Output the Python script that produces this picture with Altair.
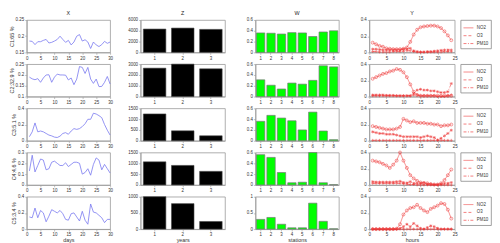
import altair as alt
import pandas as pd

FONT = "Liberation Sans"

row_labels = ["C1:65 %", "C2:32.9 %", "C3:5.1 %", "C4:4.6 %", "C5:3.4 %"]
col_titles = ["X", "Z", "W", "Y"]
x_titles = ["days", "years", "stations", "hours"]

# ---- column X : daily profiles ----
days = list(range(1, 31))
x_c1 = [0.185, 0.184, 0.174, 0.183, 0.183, 0.187, 0.190, 0.179, 0.181, 0.185,
        0.190, 0.200, 0.190, 0.181, 0.187, 0.173, 0.182, 0.200, 0.205, 0.185,
        0.189, 0.182, 0.162, 0.182, 0.173, 0.168, 0.174, 0.184, 0.178, 0.182]
x_c2 = [0.190, 0.182, 0.178, 0.183, 0.166, 0.186, 0.200, 0.201, 0.166, 0.190,
        0.204, 0.200, 0.200, 0.199, 0.177, 0.186, 0.155, 0.181, 0.239, 0.235,
        0.207, 0.235, 0.181, 0.161, 0.181, 0.146, 0.147, 0.166, 0.193, 0.158]
x_c3 = [0.05, 0.11, 0.22, 0.11, 0.12, 0.11, 0.09, 0.07, 0.06, 0.045,
        0.04, 0.057, 0.09, 0.10, 0.08, 0.12, 0.15, 0.14, 0.15, 0.175,
        0.21, 0.265, 0.265, 0.34, 0.33, 0.31, 0.285, 0.20, 0.13, 0.07]
x_c4 = [0.13, 0.275, 0.12, 0.18, 0.24, 0.23, 0.14, 0.15, 0.21, 0.22,
        0.20, 0.18, 0.18, 0.205, 0.17, 0.19, 0.21, 0.21, 0.20, 0.10,
        0.115, 0.15, 0.09, 0.19, 0.25, 0.23, 0.14, 0.19, 0.15, 0.11]
x_c5 = [0.15, 0.14, 0.26, 0.14, 0.23, 0.20, 0.09, 0.16, 0.24, 0.22,
        0.20, 0.23, 0.19, 0.12, 0.11, 0.19, 0.20, 0.15, 0.10, 0.22,
        0.11, 0.06, 0.31, 0.21, 0.20, 0.17, 0.14, 0.08, 0.12, 0.12]
x_series = [x_c1, x_c2, x_c3, x_c4, x_c5]
x_domains = [[0.15, 0.25], [0.1, 0.25], [0, 0.4], [0, 0.3], [0, 0.4]]
x_yticks = [[0.15, 0.2, 0.25], [0.1, 0.15, 0.2, 0.25], [0, 0.2, 0.4],
            [0, 0.1, 0.2, 0.3], [0, 0.2, 0.4]]
x_xticks = [0, 5, 10, 15, 20, 25, 30]

# ---- column Z : yearly totals ----
years = [1, 2, 3]
z_c1 = [4320, 4500, 4260]
z_c2 = [2630, 3000, 2570]
z_c3 = [1240, 460, 230]
z_c4 = [1070, 903, 628]
z_c5 = [1000, 786, 235]
z_series = [z_c1, z_c2, z_c3, z_c4, z_c5]
z_max = [6000, 3000, 1500, 1500, 1000]
z_yticks = [[0, 2000, 4000, 6000], [0, 1000, 2000, 3000], [0, 500, 1000, 1500],
            [0, 500, 1000, 1500], [0, 500, 1000]]

# ---- column W : stations ----
stations = [1, 2, 3, 4, 5, 6, 7, 8]
w_c1 = [0.36, 0.355, 0.34, 0.366, 0.36, 0.294, 0.378, 0.40]
w_c2 = [0.31, 0.21, 0.14, 0.25, 0.23, 0.30, 0.57, 0.55]
w_c3 = [0.36, 0.47, 0.42, 0.37, 0.20, 0.53, 0.18, 0.02]
w_c4 = [0.56, 0.51, 0.23, 0.04, 0.05, 0.60, 0.04, 0.005]
w_c5 = [0.30, 0.36, 0.15, 0.04, 0.04, 0.80, 0.24, 0.01]
w_series = [w_c1, w_c2, w_c3, w_c4, w_c5]
w_max = [0.6, 0.6, 0.6, 0.6, 1]
w_yticks = [[0, 0.2, 0.4, 0.6]] * 4 + [[0, 0.5, 1]]

# ---- column Y : hourly pollutant profiles ----
hours = list(range(1, 25))
series_names = ["NO2", "O3", "PM10"]
y1_no2 = [0.12, 0.10, 0.08, 0.07, 0.05, 0.045, 0.04, 0.04, 0.04, 0.045, 0.06, 0.13,
          0.22, 0.28, 0.31, 0.32, 0.325, 0.33, 0.33, 0.32, 0.30, 0.26, 0.21, 0.15]
y1_o3 = [0.01, 0.01, 0.005, 0.005, 0.005, 0.005, 0.01, 0.01, 0.01, 0.015, 0.02, 0.02,
         0.01, 0.005, 0.003, 0.003, 0.003, 0.005, 0.005, 0.005, 0.005, 0.01, 0.01, 0.01]
y1_pm10 = [0.04, 0.04, 0.035, 0.03, 0.03, 0.03, 0.03, 0.03, 0.03, 0.04, 0.04, 0.05,
           0.02, 0.01, 0.005, 0.005, 0.01, 0.01, 0.015, 0.02, 0.025, 0.03, 0.03, 0.03]
y2_no2 = [0.22, 0.24, 0.26, 0.28, 0.29, 0.31, 0.32, 0.34, 0.33, 0.30, 0.24, 0.15,
          0.06, 0.02, 0.01, 0.01, 0.01, 0.01, 0.01, 0.01, 0.01, 0.01, 0.01, 0.01]
y2_o3 = [0.01, 0.01, 0.01, 0.01, 0.01, 0.01, 0.01, 0.01, 0.01, 0.01, 0.01, 0.01,
         0.02, 0.02, 0.01, 0.01, 0.01, 0.01, 0.01, 0.0, 0.0, 0.0, 0.01, 0.02]
y2_pm10 = [0.02, 0.02, 0.02, 0.02, 0.015, 0.015, 0.015, 0.01, 0.01, 0.01, 0.01, 0.01,
           0.04, 0.08, 0.09, 0.08, 0.08, 0.07, 0.07, 0.06, 0.05, 0.05, 0.06, 0.16]
y3_no2 = [0.18, 0.17, 0.16, 0.15, 0.14, 0.14, 0.14, 0.15, 0.17, 0.27, 0.25, 0.23,
          0.24, 0.22, 0.22, 0.22, 0.21, 0.21, 0.20, 0.20, 0.18, 0.19, 0.19, 0.20]
y3_o3 = [0.005, 0.005, 0.005, 0.005, 0.005, 0.005, 0.005, 0.005, 0.005, 0.005, 0.005, 0.005,
         0.005, 0.005, 0.005, 0.005, 0.005, 0.005, 0.005, 0.005, 0.005, 0.005, 0.005, 0.005]
y3_pm10 = [0.11, 0.10, 0.09, 0.09, 0.08, 0.08, 0.08, 0.07, 0.06, 0.05, 0.05, 0.05,
           0.05, 0.05, 0.04, 0.05, 0.06, 0.05, 0.04, 0.01, 0.03, 0.06, 0.09, 0.13]
y4_no2 = [0.30, 0.29, 0.28, 0.26, 0.24, 0.21, 0.25, 0.30, 0.40, 0.30, 0.21, 0.12,
          0.08, 0.05, 0.03, 0.02, 0.02, 0.01, 0.005, 0.005, 0.02, 0.06, 0.12, 0.19]
y4_o3 = [0.02, 0.02, 0.02, 0.02, 0.02, 0.02, 0.02, 0.02, 0.02, 0.015, 0.01, 0.005,
         0.005, 0.0, 0.0, 0.0, 0.0, 0.0, 0.0, 0.0, 0.0, 0.0, 0.0, 0.0]
y4_pm10 = [0.04, 0.035, 0.035, 0.035, 0.035, 0.035, 0.035, 0.04, 0.045, 0.03, 0.025, 0.04,
           0.02, 0.02, 0.02, 0.03, 0.01, 0.01, 0.005, 0.005, 0.01, 0.02, 0.02, 0.03]
y5_no2 = [0.0, 0.0, 0.0, 0.0, 0.0, 0.0, 0.0, 0.005, 0.06, 0.18, 0.23, 0.26,
          0.27, 0.30, 0.26, 0.23, 0.21, 0.25, 0.27, 0.29, 0.32, 0.31, 0.24, 0.13]
y5_o3 = [0.0] * 24
y5_pm10 = [0.0, 0.0, 0.0, 0.0, 0.0, 0.0, 0.0, 0.0, 0.01, 0.03, 0.06, 0.03,
           0.07, 0.04, 0.01, 0.0, 0.02, 0.04, 0.03, 0.01, 0.0, 0.0, 0.0, 0.0]
y_series = [[y1_no2, y1_o3, y1_pm10], [y2_no2, y2_o3, y2_pm10], [y3_no2, y3_o3, y3_pm10],
            [y4_no2, y4_o3, y4_pm10], [y5_no2, y5_o3, y5_pm10]]
y_xticks = [0, 5, 10, 15, 20, 25]

BLUE = "#7a7af0"
RED = "#ee3333"
GREEN = "#00ff00"
H = 33
WIDTHS = [85, 86, 85, 87]
ASTERISK = "M-1,0L1,0M0,-1L0,1M-0.7,-0.7L0.7,0.7M-0.7,0.7L0.7,-0.7"
PLUS = "M-1,0L1,0M0,-1L0,1"
MARKERS = ["circle", PLUS, ASTERISK]
LABEL_EXPR = "datum.value + ''"


def ax(values=None, title=None, **kw):
    args = dict(grid=False, labelExpr=LABEL_EXPR, labelFlush=False, labelOverlap=False)
    if values is not None:
        args["values"] = values
    args.update(kw)
    return alt.Axis(title=title, **args)


def finish(chart, i, c):
    props = dict(width=WIDTHS[c], height=H)
    if i == 0:
        props["title"] = alt.TitleParams(col_titles[c])
    return chart.properties(**props)


def x_panel(i):
    df = pd.DataFrame({"day": days, "v": x_series[i]})
    ch = alt.Chart(df).mark_line(color=BLUE, strokeWidth=0.9, opacity=0.9).encode(
        x=alt.X("day:Q", scale=alt.Scale(domain=[0, 30], nice=False),
                axis=ax(x_xticks, x_titles[0] if i == 4 else None)),
        y=alt.Y("v:Q", scale=alt.Scale(domain=x_domains[i], nice=False, zero=False),
                axis=ax(x_yticks[i], row_labels[i])),
    )
    return finish(ch, i, 0)


def z_panel(i):
    df = pd.DataFrame({"year": years, "v": z_series[i]})
    ch = alt.Chart(df).mark_bar(color="black", stroke="#444", strokeWidth=0.6).encode(
        x=alt.X("year:O", scale=alt.Scale(paddingInner=0.2, paddingOuter=0.1),
                axis=ax(None, x_titles[1] if i == 4 else None, labelAngle=0)),
        y=alt.Y("v:Q", scale=alt.Scale(domain=[0, z_max[i]], nice=False),
                axis=ax(z_yticks[i], None)),
    )
    return finish(ch, i, 1)


def w_panel(i):
    df = pd.DataFrame({"station": stations, "v": w_series[i]})
    ch = alt.Chart(df).mark_bar(color=GREEN, stroke="#777", strokeWidth=0.7).encode(
        x=alt.X("station:O", scale=alt.Scale(paddingInner=0.2, paddingOuter=0.1),
                axis=ax(None, x_titles[2] if i == 4 else None, labelAngle=0)),
        y=alt.Y("v:Q", scale=alt.Scale(domain=[0, w_max[i]], nice=False),
                axis=ax(w_yticks[i], None)),
    )
    return finish(ch, i, 2)


def y_panel(i):
    rows = []
    for name, vals in zip(series_names, y_series[i]):
        for h, v in zip(hours, vals):
            rows.append({"hour": h, "v": v, "s": name})
    df = pd.DataFrame(rows)
    base = alt.Chart(df).encode(
        x=alt.X("hour:Q", scale=alt.Scale(domain=[0, 25], nice=False),
                axis=ax(y_xticks, x_titles[3] if i == 4 else None)),
        y=alt.Y("v:Q", scale=alt.Scale(domain=[0, 0.4], nice=False),
                axis=ax([0, 0.2, 0.4], None)),
    )
    leg = alt.Legend(title=None, orient="right", offset=6)
    line = base.mark_line(strokeWidth=0.8, opacity=0.7).encode(
        color=alt.Color("s:N", scale=alt.Scale(domain=series_names, range=[RED, RED, RED]),
                        legend=leg),
        strokeDash=alt.StrokeDash("s:N", scale=alt.Scale(domain=series_names,
                                                         range=[[1, 0], [3, 2], [3, 1.5, 1, 1.5]]),
                                  legend=leg),
    )
    layers = [line]
    for name, shp in zip(series_names, MARKERS):
        layers.append(
            base.transform_filter(alt.datum.s == name).mark_point(
                shape=shp, size=9, strokeWidth=0.7, filled=False, color=RED, opacity=0.75)
        )
    return finish(alt.layer(*layers), i, 3)


panels = []
for i in range(5):
    panels += [x_panel(i), z_panel(i), w_panel(i), y_panel(i)]

chart = alt.concat(
    *panels, columns=4, spacing={"row": 12, "column": 31}, bounds="flush", align="each"
).resolve_scale(
    color="independent", strokeDash="independent"
).properties(
    padding={"left": 0, "top": 0, "right": 0, "bottom": 0}
).configure_view(
    stroke="#999", strokeWidth=0.8
).configure_axis(
    domainColor="#999", domainWidth=0.8, tickColor="#999", tickSize=2, tickWidth=0.6,
    labelFont=FONT, titleFont=FONT, labelFontSize=4.5, titleFontSize=5.5,
    labelColor="#333", titleColor="#333", labelPadding=1, titlePadding=1,
    titleFontWeight="normal",
).configure_title(
    font=FONT, fontSize=5.5, offset=1, fontWeight="normal", color="#222"
).configure_legend(
    labelFont=FONT, labelColor="#333", labelFontSize=4.5, labelOffset=3,
    symbolType="stroke", symbolSize=100, symbolStrokeWidth=0.9,
    rowPadding=0, padding=2.5, strokeColor="#888", strokeWidth=0.8, fillColor="white",
)

chart.save("out.html", embed_options={"renderer": "svg", "actions": False})
